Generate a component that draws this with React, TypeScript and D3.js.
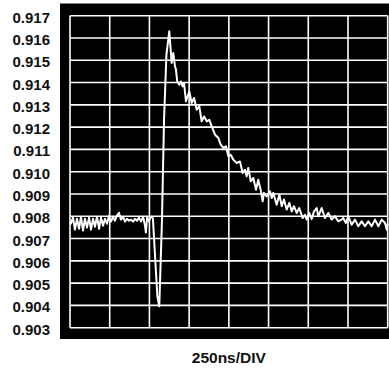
import React from "react";
import * as d3 from "d3";

const timeNs: number[] = [
  0, 6, 19, 31, 44, 57, 69, 82, 94, 107, 120, 132, 145, 157, 170, 183, 195, 208, 220, 233, 246,
  258, 271, 283, 296, 308, 321, 334, 346, 359, 371, 384, 397, 409, 422, 434, 447, 460, 472, 478,
  485, 497, 504, 516, 522, 550, 562, 579, 592, 607, 625, 640, 650, 661, 667, 675, 688, 697, 709,
  718, 730, 751, 766, 781, 798, 814, 829, 844, 861, 877, 892, 913, 934, 949, 965, 982, 997, 1012,
  1028, 1049, 1070, 1087, 1102, 1112, 1122, 1138, 1154, 1171, 1185, 1200, 1213, 1221, 1238, 1259,
  1270, 1280, 1301, 1318, 1333, 1347, 1364, 1381, 1396, 1410, 1427, 1443, 1465, 1479, 1490, 1506,
  1521, 1536, 1553, 1563, 1584, 1605, 1626, 1647, 1668, 1689, 1710, 1720, 1737, 1752, 1773, 1794,
  1815, 1836, 1857, 1878, 1899, 1920, 1941, 1962, 1983, 1994, 2000,
];

const voltage: number[] = [
  0.90776, 0.90767, 0.90794, 0.9074, 0.90789, 0.90744, 0.90798, 0.90736, 0.90789, 0.90749, 0.90794,
  0.9074, 0.90789, 0.90753, 0.90798, 0.90744, 0.90794, 0.90758, 0.90789, 0.90767, 0.90803,
  0.90776, 0.90798, 0.9078, 0.90803, 0.90816, 0.90785, 0.90798, 0.90776, 0.90789, 0.9078, 0.90785,
  0.90776, 0.90789, 0.9078, 0.90794, 0.90776, 0.90798, 0.90758, 0.90727, 0.90794, 0.90776,
  0.90794, 0.90798, 0.90789, 0.90441, 0.90396, 0.90785, 0.91233, 0.91525, 0.9163, 0.91488,
  0.91533, 0.91473, 0.91458, 0.91405, 0.9139, 0.91405, 0.91383, 0.91398, 0.91316, 0.9136,
  0.91308, 0.91331, 0.91278, 0.91293, 0.91226, 0.91248, 0.91226, 0.91233, 0.91203, 0.91166,
  0.91151, 0.91121, 0.91107, 0.91114, 0.91069, 0.91076, 0.91054, 0.91039, 0.91046, 0.90994,
  0.91009, 0.90979, 0.91017, 0.90957, 0.90972, 0.90919, 0.90964, 0.90919, 0.90867, 0.90905,
  0.90889, 0.90912, 0.90882, 0.90905, 0.90852, 0.90897, 0.90845, 0.90875, 0.9083, 0.9086, 0.90822,
  0.90845, 0.90815, 0.90837, 0.90792, 0.90807, 0.90785, 0.90815, 0.90788, 0.90822, 0.90837, 0.908,
  0.90837, 0.90792, 0.90815, 0.90785, 0.908, 0.90777, 0.90785, 0.90792, 0.9077, 0.908, 0.90762,
  0.90785, 0.90755, 0.90777, 0.90755, 0.90777, 0.90755, 0.90785, 0.90755, 0.90785, 0.9077, 0.9074,
  0.90767,
];

const yTicks: number[] = [
  0.917, 0.916, 0.915, 0.914, 0.913, 0.912, 0.911, 0.91, 0.909, 0.908, 0.907, 0.906, 0.905, 0.904,
  0.903,
];
const xDivisions: number[] = [0, 250, 500, 750, 1000, 1250, 1500, 1750, 2000];
const xLabel = "250ns/DIV";

export default function App() {
  const W = 389;
  const H = 368;
  const left = 70;
  const right = 387.7;
  const top = 15.7;
  const bottom = 327.7;

  const x = d3.scaleLinear().domain([0, 2000]).range([left, right]);
  const y = d3.scaleLinear().domain([0.903, 0.917]).range([bottom, top]);

  const pts: [number, number][] = timeNs.map((t, i) => [t, voltage[i]]);
  const line = d3
    .line<[number, number]>()
    .x((d) => x(d[0]))
    .y((d) => y(d[1]));

  const font = "'Liberation Sans', Arial, Helvetica, sans-serif";

  return (
    <svg
      width={W}
      height={H}
      style={{ position: "fixed", left: 0, top: 0, background: "#fff" }}
    >
      <rect x={0} y={0} width={W} height={H} fill="#fff" />
      <rect x={60} y={3.5} width={W - 60} height={335.5} fill="#000" />
      {yTicks.map((v) => (
        <line
          key={"h" + v}
          x1={left}
          x2={right}
          y1={y(v)}
          y2={y(v)}
          stroke="#fff"
          strokeWidth={1.6}
        />
      ))}
      {xDivisions.map((t) => (
        <line
          key={"v" + t}
          x1={x(t)}
          x2={x(t)}
          y1={top}
          y2={bottom}
          stroke="#fff"
          strokeWidth={1.6}
        />
      ))}
      <path
        d={line(pts) || ""}
        fill="none"
        stroke="#fff"
        strokeWidth={2}
        strokeLinejoin="round"
      />
      {yTicks.map((v) => (
        <text
          key={"t" + v}
          x={50}
          y={y(v) + 7}
          textAnchor="end"
          fontFamily={font}
          fontWeight="bold"
          fontSize={15}
          fill="#111"
        >
          {v.toFixed(3)}
        </text>
      ))}
      <text
        x={(left + right) / 2}
        y={363}
        textAnchor="middle"
        fontFamily={font}
        fontWeight="bold"
        fontSize={15.5}
        fill="#111"
      >
        {xLabel}
      </text>
    </svg>
  );
}
